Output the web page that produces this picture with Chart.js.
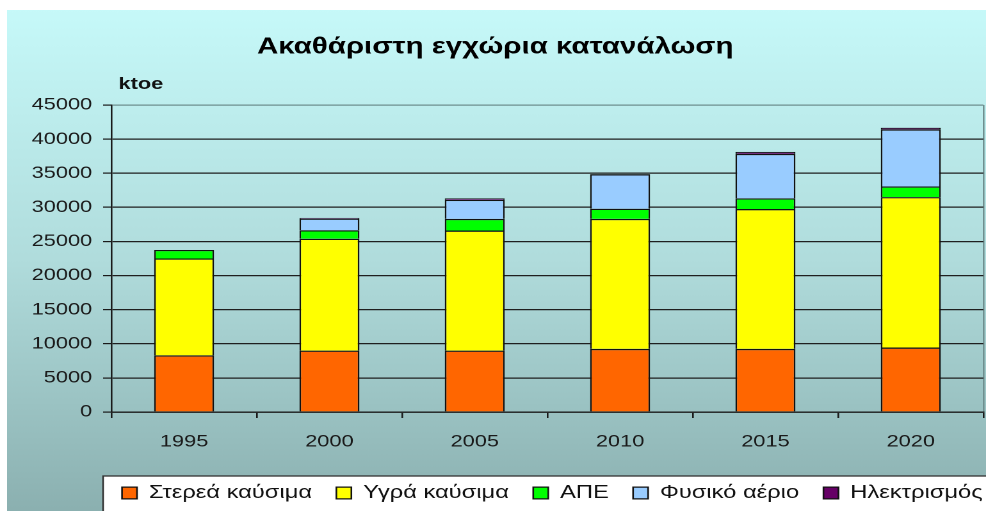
<!DOCTYPE html>
<html><head><meta charset="utf-8">
<script src="https://cdn.jsdelivr.net/npm/chart.js@4/dist/chart.umd.min.js"></script>
<style>html,body{margin:0;padding:0;background:#fff;overflow:hidden}
#c{display:block;width:986px !important;height:511px !important}</style></head>
<body><canvas id="c" width="770" height="511" style="width:986px;height:511px"></canvas>
<script>
const years = ['1995', '2000', '2005', '2010', '2015', '2020'];
const solidFuels = [8300, 9000, 9000, 9250, 9250, 9450];
const liquidFuels = [14200, 16400, 17600, 19050, 20500, 22050];
const renewables = [1250, 1250, 1700, 1500, 1570, 1560];
const naturalGas = [null, 1700, 2800, 5060, 6510, 8360];
const electricity = [null, 100, 220, null, 300, 250];
const seriesNames = ['Στερεά καύσιμα', 'Υγρά καύσιμα', 'ΑΠΕ', 'Φυσικό αέριο', 'Ηλεκτρισμός'];
const seriesColors = ['#ff6600', '#ffff00', '#00ff00', '#99ccff', '#660066'];
const chartTitle = 'Ακαθάριστη εγχώρια κατανάλωση';
const unitLabel = 'ktoe';
const yMax = 45000, yStep = 5000;

const FONT = '"Liberation Sans", Arial, sans-serif';
const seriesValues = [solidFuels, liquidFuels, renewables, naturalGas, electricity];

const bgPlugin = {
  id: 'bg',
  beforeDraw(chart) {
    const {ctx, width, height} = chart;
    ctx.save();
    ctx.fillStyle = '#ffffff';
    ctx.fillRect(0, 0, width, height);
    const g = ctx.createLinearGradient(0, 10, 0, height);
    g.addColorStop(0, '#c6f9f9');
    g.addColorStop(0.5, '#b0dcdc');
    g.addColorStop(1, '#8bb0b0');
    ctx.fillStyle = g;
    ctx.fillRect(5.5, 10, width - 5.5, height - 10);
    ctx.fillStyle = '#ffffff';
    ctx.fillRect(80.5, 476, width, height);
    ctx.strokeStyle = '#333333';
    ctx.lineWidth = 1.3;
    ctx.strokeRect(80.5, 476, width + 20, height);
    ctx.fillStyle = '#111111';
    ctx.font = 'bold 17px ' + FONT;
    ctx.textBaseline = 'alphabetic';
    ctx.textAlign = 'left';
    ctx.fillText(unitLabel, 92.5, 89);
    ctx.restore();
  },
  afterLayout(chart) {
    const lg = chart.legend;
    if (!lg) return;
    const p = chart.options.plugins.legend.labels.padding;
    lg.left = 95.3 - p;
    lg.right = chart.width + 100;
    lg.top += 1.25;
    lg.bottom += 1.25;
  }
};

new Chart(document.getElementById('c'), {
  type: 'bar',
  data: {
    labels: years,
    datasets: seriesNames.map((name, i) => ({
      label: name,
      data: seriesValues[i],
      backgroundColor: seriesColors[i],
      borderColor: '#111111',
      borderWidth: 1.3,
      barPercentage: 0.413,
      categoryPercentage: 1
    }))
  },
  options: {
    responsive: false,
    animation: false,
    devicePixelRatio: 2,
    layout: {padding: {left: 5.5, right: 2, top: 10, bottom: 0}},
    plugins: {
      title: {
        display: true,
        text: chartTitle,
        color: '#000000',
        font: {family: FONT, size: 23, weight: 'bold'},
        padding: {top: 23.2, bottom: 44.2}
      },
      legend: {
        position: 'bottom',
        align: 'start',
        labels: {
          color: '#111111',
          font: {family: FONT, size: 18.5},
          boxWidth: 11.7,
          boxHeight: 11.7,
          padding: 19
        }
      },
      tooltip: {enabled: false}
    },
    scales: {
      x: {
        stacked: true,
        grid: {
          offset: true,
          drawOnChartArea: true,
          color: c => (c.type === 'scale' || c.index === undefined) ? '#6f8f8f' : 'rgba(0,0,0,0)',
          tickColor: '#1a1a1a',
          tickLength: 6,
          lineWidth: 1.3
        },
        border: {color: '#1a1a1a', width: 1.3},
        ticks: {color: '#1a1a1a', font: {family: FONT, size: 17}, padding: 13.8, maxRotation: 0},
        afterFit(s) { s.height = 51.5; }
      },
      y: {
        stacked: true,
        min: 0,
        max: yMax,
        grid: {
          color: c => (c.tick && c.tick.value === yMax) ? '#6f8f8f' : '#1f1f1f',
          tickColor: '#1a1a1a',
          tickLength: 6.5,
          lineWidth: 1.2
        },
        border: {color: '#1a1a1a', width: 1.3},
        ticks: {
          stepSize: yStep,
          color: '#1a1a1a',
          font: {family: FONT, size: 17},
          padding: 8.5,
          callback: v => String(v)
        },
        afterFit(s) { s.width = 81.5; }
      }
    }
  },
  plugins: [bgPlugin]
});
</script>
</body></html>
